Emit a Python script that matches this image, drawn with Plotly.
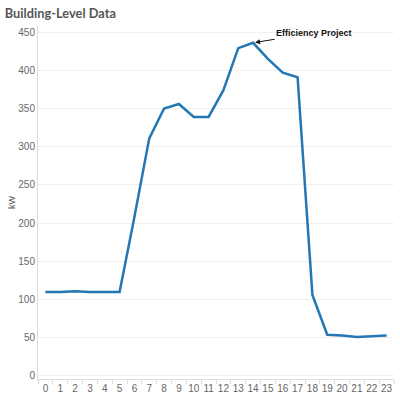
import plotly.graph_objects as go

hours = list(range(24))
kw = [110, 110, 111, 110, 110, 110, 208, 311, 350, 356, 339, 339,
      374, 429, 436, 415, 397, 391, 106, 54, 53, 51, 52, 53]
y_ticks = [0, 50, 100, 150, 200, 250, 300, 350, 400, 450]

fig = go.Figure()
fig.add_trace(go.Scatter(x=hours, y=kw, mode="lines",
                         line=dict(color="#2277b4", width=2.5),
                         hoverinfo="skip"))

fig.update_layout(
    width=400, height=400,
    margin=dict(l=38, r=6, t=26, b=19),
    paper_bgcolor="white", plot_bgcolor="white",
    showlegend=False,
    title=dict(text="<b>Building-Level Data</b>", x=0.012, xanchor="left",
               y=0.967, yanchor="middle",
               font=dict(family="Lato", size=12.8, color="#555555")),
    font=dict(family="Liberation Sans", size=10, color="#666666"),
)

fig.update_xaxes(
    range=[-0.5, 23.5], tickmode="array", tickvals=hours,
    ticktext=[str(h) for h in hours],
    showgrid=False, zeroline=False,
    showline=True, linecolor="#dddddd", linewidth=1,
    ticks="", ticklen=0,
    minor=dict(tickmode="linear", tick0=-0.5, dtick=1, ticks="outside",
               ticklen=4, tickcolor="#dddddd", showgrid=False),
    tickfont=dict(size=10, color="#666666"),
)
fig.update_yaxes(
    range=[-4, 458], tickmode="array", tickvals=y_ticks,
    showgrid=True, gridcolor="#f0f0f0", gridwidth=1, zeroline=False,
    showline=True, linecolor="#dddddd", linewidth=1,
    ticks="", tickfont=dict(size=10, color="#666666"),
    title=dict(text="kW", font=dict(size=9, color="#555555"), standoff=1),
)

fig.add_annotation(
    x=14, y=436, xref="x", yref="y",
    text="<b>Efficiency Project</b>",
    font=dict(family="Liberation Sans", size=9, color="#111111"),
    showarrow=True, arrowhead=2, arrowsize=1, arrowwidth=1,
    arrowcolor="#111111", ax=61, ay=-10, standoff=2,
)

fig.write_html("out.html", config={"displayModeBar": False},
               post_script="document.body.style.margin='0';document.body.style.overflow='hidden';")
